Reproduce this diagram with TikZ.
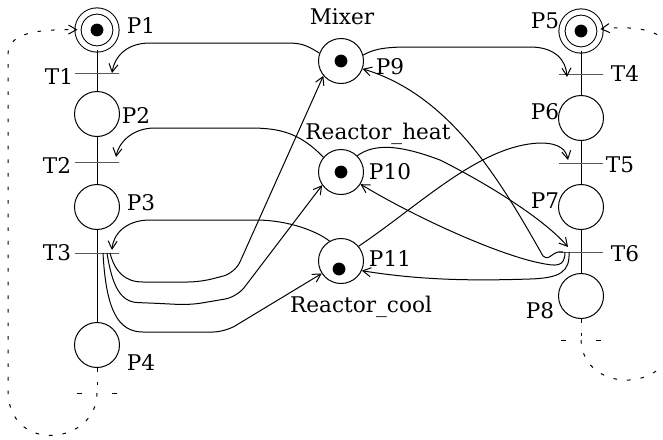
\documentclass[tikz,border=0pt]{standalone}
\usepackage{fontspec}
\setmainfont{DejaVu Serif}
\usetikzlibrary{arrows.meta, calc}

\tikzset{
    place/.style={circle, draw, line width=0.5pt, minimum size=22.5pt, inner sep=0pt},
    startplace/.style={place, double, double distance=2.6pt, minimum size=19pt},
    marked/.style={path picture={\fill ([shift={#1}]path picture bounding box.center) circle (3.2pt);}},
    marked/.default={(0pt,0pt)},
    trans/.style={draw, line width=0.5pt, rectangle, minimum width=22pt, minimum height=0pt, inner sep=0pt},
    dtrans/.style={trans, draw=none, minimum width=20pt},
    link/.style={line width=0.5pt},
    flow/.style={line width=0.5pt, -{Straight Barb[length=4pt, width=4.5pt]}},
    dflow/.style={line width=0.5pt, dash pattern=on 1.8pt off 5pt},
    lbl/.style={inner sep=0pt, font=\fontsize{10.8}{13}\selectfont}
}

\begin{document}
\begin{tikzpicture}[x=0.5pt, y=-0.5pt]
    \useasboundingbox (0,0) rectangle (663,439);
    \clip (0,0) rectangle (663,439);

    % 左列：库所与变迁
    \node[startplace, marked] (P1) at (97,30) {};
    \foreach \n/\y in {2/114, 3/207, 4/345}
        \node[place] (P\n) at (97,\y) {};
    \foreach \n/\y in {1/73, 2/162, 3/253}
        \node[trans] (T\n) at (97,\y) {};
    \node[dtrans] (TD1) at (97,393) {};

    % 右列：库所与变迁
    \node[startplace, marked] (P5) at (581,31) {};
    \foreach \n/\y in {6/118, 7/207, 8/296}
        \node[place] (P\n) at (581,\y) {};
    \foreach \n/\y in {4/74, 5/163, 6/252}
        \node[trans] (T\n) at (581,\y) {};
    \node[dtrans] (TD2) at (581,340) {};

    % 资源库所
    \node[place, marked] (P9) at (341,61) {};
    \node[place, marked] (P10) at (341,172) {};
    \node[place, marked={(-1pt,-4pt)}] (P11) at (341,261) {};

    % 标签
    \foreach \n/\x/\y in {P1/141/25, T1/59/76, P2/136/115, T2/57/165, P3/141/203,
        T3/57/253, P4/141/362, P5/545/21, T4/625/73, P6/545/112, T5/620/165,
        P7/545/201, T6/625/254, P8/540/311, P9/390/67, P10/390/172, P11/390/258}
        \node[lbl] (l\n) at (\x,\y) {\n};
    \node[lbl] (lmix) at (342,17) {Mixer};
    \node[lbl] (lheat) at (378,134) {Reactor\_heat};
    \node[lbl] (lcool) at (361,307) {Reactor\_cool};

    % 主线
    \foreach \a/\b in {P1/T1, T1/P2, P2/T2, T2/P3, P3/T3, T3/P4,
        P5/T4, T4/P6, P6/T5, T5/P7, P7/T6, T6/P8}
        \draw[link] (\a) -- (\b);

    % 虚线回路
    \draw[dflow] (P4) -- (TD1.center);
    \draw[dflow, dash pattern=on 2.5pt off 15pt] (TD1.west) -- (TD1.east);
    \draw[dflow, flow] (TD1.center) .. controls (97,445) and (8,455) .. (8,390)
        -- (8,55) .. controls (8,35) and (30,29) .. (P1);
    \draw[dflow] (P8) -- (TD2.center);
    \draw[dflow, dash pattern=on 2.5pt off 15pt] (TD2.west) -- (TD2.east);
    \draw[dflow, flow] (TD2.center) .. controls (583,395) and (676,395) .. (676,330)
        -- (676,70) .. controls (676,35) and (650,24) .. (P5);

    % 资源弧
    \draw[flow] (P9.160) .. controls (305,44) and (300,43) .. (285,43) -- (150,43)
        .. controls (128,43) and (115,55) .. ([xshift=7.5pt]T1.center);
    \draw[flow] (P10.140) .. controls (300,133) and (280,128) .. (250,128) -- (155,128)
        .. controls (130,128) and (118,145) .. ([xshift=9.5pt, yshift=2.5pt]T2.center);
    \draw[flow] (P11.120) .. controls (318,232) and (290,220) .. (255,220) -- (150,220)
        .. controls (125,220) and (113,235) .. ([xshift=7.5pt, yshift=1.5pt]T3.center);
    \draw[flow, rounded corners=6pt] ([xshift=6.5pt]T3.center)
        .. controls (115,272) and (125,282) .. (155,282) -- (200,282) -- (235,273) -- (P9.220);
    \draw[flow, rounded corners=6pt] ([xshift=5pt]T3.center)
        .. controls (112,285) and (120,302) .. (150,303) -- (190,305) -- (237,297) -- (P10.215);
    \draw[flow, rounded corners=6pt] ([xshift=3pt]T3.center)
        .. controls (106,310) and (118,332) .. (155,332) -- (225,332) -- (P11.213);
    \draw[flow] (P9.15) .. controls (375,48) and (390,47) .. (410,47) -- (530,47)
        .. controls (555,47) and (566,60) .. ([xshift=-7pt, yshift=-1.5pt]T4.center);
    \draw[flow] (P11.40) .. controls (420,205) and (480,145) .. (540,143)
        .. controls (560,143) and (566,150) .. ([xshift=-6.5pt, yshift=1.5pt]T5.center);
    \draw[flow] (P10.45) .. controls (375,143) and (400,145) .. (440,160)
        .. controls (490,185) and (545,220) .. ([xshift=-6.5pt, yshift=2.5pt]T6.center);
    \draw[flow] ([xshift=-9pt]T6.center) .. controls (552,250) and (550,262) .. (543,256)
        .. controls (500,180) and (450,95) .. (P9.-20);
    \draw[flow] ([xshift=-8pt]T6.center) .. controls (565,268) and (555,266) .. (540,263)
        .. controls (500,255) and (420,220) .. (P10.-32);
    \draw[flow] ([xshift=-6pt]T6.center) .. controls (570,272) and (560,278) .. (530,279)
        .. controls (470,281) and (420,280) .. (P11.-25);
\end{tikzpicture}
\end{document}
